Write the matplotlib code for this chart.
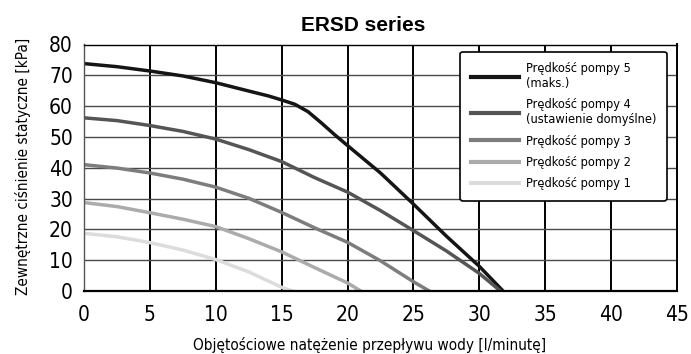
import numpy as np
import matplotlib
matplotlib.use("Agg")
from matplotlib import pyplot as plt

plt.rcParams['font.family'] = ['DejaVu Sans']
plt.rcParams['font.stretch'] = 'condensed'

# pump curves: flow [l/min] vs. static pressure [kPa]
flow5 = [0, 2.5, 5, 7.5, 10, 12.5, 14, 15, 16, 17, 18, 19, 20, 22.5, 25, 27.5, 30, 31.8]
pres5 = [73.8, 72.8, 71.4, 69.8, 67.6, 64.9, 63.3, 62.0, 60.6, 58.2, 54.6, 50.8, 47.2, 38.3, 28.2, 17.8, 8.0, 0]
flow4 = [0, 2.5, 5, 7.5, 10, 12.5, 15, 17.5, 20, 22.5, 25, 27.5, 30, 31.6]
pres4 = [56.2, 55.3, 53.7, 51.8, 49.3, 45.9, 42.0, 36.8, 32.1, 26.1, 19.6, 13.0, 5.7, 0]
flow3 = [0, 2.5, 5, 7.5, 10, 12.5, 15, 17.5, 20, 22.5, 25, 26.2]
pres3 = [41.0, 39.9, 38.3, 36.3, 33.7, 30.1, 25.5, 20.5, 15.8, 9.8, 3.0, 0]
flow2 = [0, 2.5, 5, 7.5, 10, 12.5, 15, 17.5, 20, 21.0]
pres2 = [28.7, 27.4, 25.4, 23.3, 20.9, 17.0, 12.7, 7.6, 2.6, 0]
flow1 = [0, 2.5, 5, 7.5, 10, 12.5, 15, 15.8]
pres1 = [18.7, 17.6, 15.7, 13.3, 10.2, 6.2, 1.2, 0]

labels = ["Prędkość pompy 5\n(maks.)",
          "Prędkość pompy 4\n(ustawienie domyślne)",
          "Prędkość pompy 3",
          "Prędkość pompy 2",
          "Prędkość pompy 1"]
colors = ["#151515", "#555555", "#7d7d7d", "#ababab", "#dcdcdc"]

fig = plt.figure(figsize=(6.91, 3.54), dpi=100)
ax = fig.add_axes([84 / 691, 1 - 291 / 354, 593 / 691, 246.5 / 354])

series = [(flow5, pres5), (flow4, pres4), (flow3, pres3), (flow2, pres2), (flow1, pres1)]
for (x, y), lab, c in zip(series, labels, colors):
    ax.plot(x, y, color=c, lw=2.5, label=lab, solid_joinstyle='round')

ax.set_xlim(0, 45)
ax.set_ylim(0, 80)
ax.set_xticks(np.arange(0, 46, 5))
ax.set_yticks(np.arange(0, 81, 10))
for v in range(5, 45, 5):
    ax.axvline(v, color='black', lw=1.4, zorder=0)
for v in range(10, 80, 10):
    ax.axhline(v, color='#4a4a4a', lw=1.0, zorder=0)
for s in ax.spines.values():
    s.set_color('black')
    s.set_linewidth(1.0)
ax.spines['right'].set_linewidth(1.4)
ax.spines['bottom'].set_linewidth(1.6)
ax.spines['left'].set_color('#555555')
ax.tick_params(length=0, labelsize=15)
ax.tick_params(axis='x', pad=10)
ax.tick_params(axis='y', pad=8)

ax.set_xlabel("Objętościowe natężenie przepływu wody [l/minutę]", fontsize=11)
ax.xaxis.set_label_coords(0.481, -0.185)
ax.set_ylabel("Zewnętrzne ciśnienie statyczne [kPa]", fontsize=11)
ax.yaxis.set_label_coords(-0.09, 0.505)
ax.set_title("ERSD series", fontsize=15, fontweight='bold', family=['Liberation Sans', 'DejaVu Sans'],
             fontstretch='normal', x=0.47, pad=10)

leg = ax.legend(loc='upper right', bbox_to_anchor=(0.983, 0.97), fontsize=9.2,
                frameon=True, fancybox=True, handlelength=3.8, labelspacing=0.65,
                borderpad=0.8, handletextpad=0.55, borderaxespad=0)
for h in leg.get_lines():
    h.set_linewidth(3.0)
leg.get_frame().set_edgecolor('black')
leg.get_frame().set_linewidth(1.2)
leg.get_frame().set_alpha(1)

fig.savefig("out.png", dpi=100)
